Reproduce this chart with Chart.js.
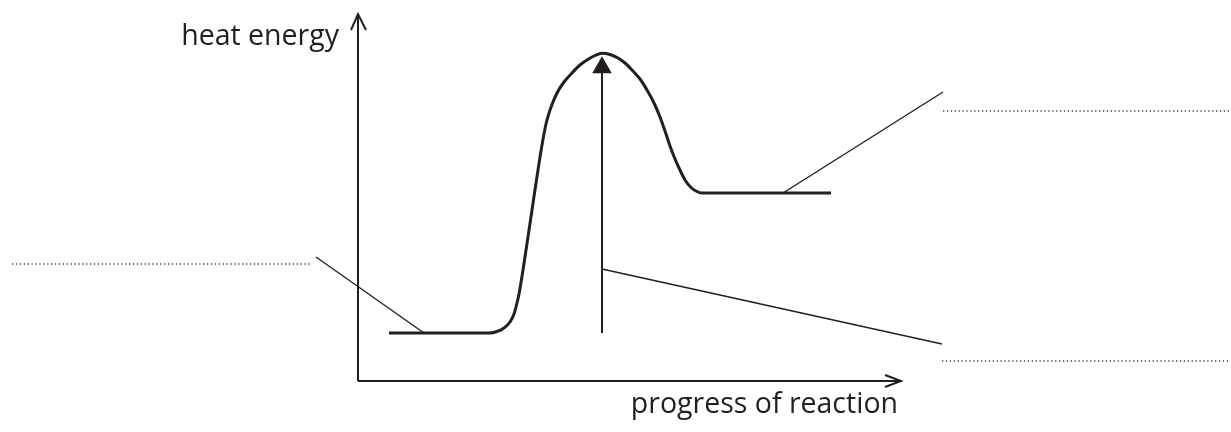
<!DOCTYPE html>
<html>
<head>
<meta charset="utf-8">
<script src="https://cdn.jsdelivr.net/npm/chart.js@4/dist/chart.umd.min.js"></script>
<style>
  html, body { margin: 0; padding: 0; background: #ffffff; }
  #wrap { width: 1231px; height: 432px; }
</style>
</head>
<body>
<div id="wrap"><canvas id="c" width="1231" height="432"></canvas></div>
<script>
// ---- data (progress of reaction vs heat energy, arbitrary units; origin = axes corner) ----
const curveProgress = [31, 132, 139, 146, 152, 156, 159, 161, 165, 174, 180, 184, 188, 192, 199, 206, 214, 222, 229, 237, 244, 252, 260, 267, 274, 282, 289, 296, 302, 307, 312, 317, 322, 327, 333, 338, 344, 473];
const curveEnergy   = [48,  48,  49.5, 53, 59, 67, 78, 87, 111, 171, 211, 236, 257, 271, 288, 299, 308, 316, 321, 325.5, 327.7, 326.5, 323, 318, 311, 302, 291, 278, 264, 250, 235, 222, 211, 201, 193.5, 190, 188, 188];

const yAxisLine   = [[0, 0], [0, 367]];
const yAxisHead   = [[-7, 351], [0, 367], [8, 351]];
const xAxisLine   = [[0, 0], [543, 0]];
const xAxisHead   = [[527, 6], [543, 0], [527, -6]];

const activationArrow = [[244, 48], [244, 310]];
const activationHead  = [[244, 313.5]];

const leaderReactants  = [[-42, 124], [66, 48]];
const leaderProducts   = [[425, 188], [585, 289]];
const leaderActivation = [[244, 112], [584, 37]];

const answerLineLeft   = [[-346, 117], [-48, 117]];
const answerLineTop    = [[585, 270], [871, 270]];
const answerLineBottom = [[584, 20], [871, 20]];

const axisLabels = [
  { text: 'heat energy', x: -19, y: 336 },
  { text: 'progress of reaction', x: 540, y: -32 }
];

const xRange = [-358, 873];
const yRange = [-51, 381];

// ---- styles ----
const INK = '#231f20';
const pts = arr => arr.map(p => ({ x: p[0], y: p[1] }));

function lineSet(points, width, extra) {
  return Object.assign({
    data: pts(points),
    showLine: true,
    borderColor: INK,
    borderWidth: width,
    pointRadius: 0,
    tension: 0,
    borderCapStyle: 'butt',
    borderJoinStyle: 'miter',
    fill: false
  }, extra || {});
}

const curvePoints = curveProgress.map((x, i) => [x, curveEnergy[i]]);

const labelPlugin = {
  id: 'axisLabels',
  afterDatasetsDraw(chart) {
    const ctx = chart.ctx;
    const xs = chart.scales.x, ys = chart.scales.y;
    ctx.save();
    ctx.fillStyle = INK;
    ctx.font = '28.5px "Open Sans"';
    ctx.textAlign = 'right';
    ctx.textBaseline = 'alphabetic';
    axisLabels.forEach(l => {
      ctx.fillText(l.text, xs.getPixelForValue(l.x), ys.getPixelForValue(l.y));
    });
    ctx.restore();
  }
};

new Chart(document.getElementById('c'), {
  type: 'scatter',
  data: {
    datasets: [
      lineSet(curvePoints, 3, { cubicInterpolationMode: 'monotone', borderJoinStyle: 'round' }),
      lineSet(yAxisLine, 2),
      lineSet(yAxisHead, 2),
      lineSet(xAxisLine, 2),
      lineSet(xAxisHead, 2),
      lineSet(activationArrow, 2),
      {
        data: pts(activationHead),
        showLine: false,
        pointStyle: 'triangle',
        pointRadius: 11.3,
        pointBackgroundColor: INK,
        pointBorderWidth: 0,
        pointBorderColor: INK
      },
      lineSet(leaderReactants, 1.4),
      lineSet(leaderProducts, 1.4),
      lineSet(leaderActivation, 1.4),
      lineSet(answerLineLeft, 1.3, { borderDash: [1.3, 2.6], borderColor: '#444' }),
      lineSet(answerLineTop, 1.3, { borderDash: [1.3, 2.6], borderColor: '#444' }),
      lineSet(answerLineBottom, 1.3, { borderDash: [1.3, 2.6], borderColor: '#444' })
    ]
  },
  options: {
    responsive: false,
    animation: false,
    events: [],
    layout: { padding: 0, autoPadding: false },
    plugins: { legend: { display: false }, tooltip: { enabled: false }, title: { display: false } },
    scales: {
      x: { type: 'linear', display: false, min: xRange[0], max: xRange[1] },
      y: { type: 'linear', display: false, min: yRange[0], max: yRange[1] }
    },
    elements: { point: { radius: 0, hoverRadius: 0 } }
  },
  plugins: [labelPlugin]
});
</script>
</body>
</html>
